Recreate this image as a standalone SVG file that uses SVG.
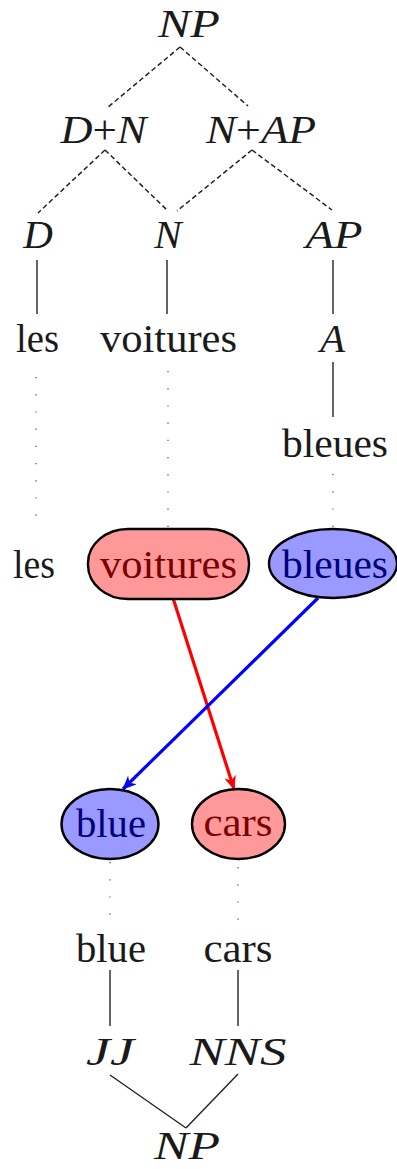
<svg xmlns="http://www.w3.org/2000/svg" width="397" height="1169" viewBox="0 0 397 1169">
<style>
text{font-family:"Liberation Serif","DejaVu Serif",serif;font-size:40px;fill:#1a1a1a;text-anchor:middle}
.m{font-style:italic;font-size:41px}
.u{font-style:normal}
.dash{stroke:#222;stroke-width:1.5;stroke-dasharray:5 3;fill:none}
.solid{stroke:#222;stroke-width:1.4;fill:none}
.dot{stroke:#555;stroke-width:1.3;stroke-dasharray:1.2 16;fill:none}
.red{fill:#ff9999;stroke:#000;stroke-width:2.4}
.blu{fill:#9999ff;stroke:#000;stroke-width:2.4}
.tr{fill:#7a0000}
.tb{fill:#00007a}
</style>
<defs>
<marker id="arR" viewBox="0 0 14 12" refX="13" refY="6" markerWidth="14" markerHeight="12" markerUnits="userSpaceOnUse" orient="auto">
<path d="M0,0 L14,6 L0,12 L4,6 Z" fill="#ff0000"/>
</marker>
<marker id="arB" viewBox="0 0 14 12" refX="13" refY="6" markerWidth="14" markerHeight="12" markerUnits="userSpaceOnUse" orient="auto">
<path d="M0,0 L14,6 L0,12 L4,6 Z" fill="#0000ff"/>
</marker>
</defs>
<g id="connectors">
<line class="dash" x1="180" y1="47" x2="107" y2="108"/>
<line class="dash" x1="180" y1="47" x2="248" y2="106"/>
<line class="dash" x1="105" y1="150" x2="38" y2="213"/>
<line class="dash" x1="105" y1="150" x2="168" y2="211"/>
<line class="dash" x1="252" y1="150" x2="177" y2="211"/>
<line class="dash" x1="252" y1="150" x2="332" y2="210"/>
<line class="solid" x1="37" y1="260" x2="37" y2="314"/>
<line class="solid" x1="167" y1="260" x2="167" y2="314"/>
<line class="solid" x1="333" y1="260" x2="333" y2="314"/>
<line class="solid" x1="333" y1="362" x2="333" y2="417"/>
<line class="dot" x1="36" y1="377" x2="36" y2="530"/>
<line class="dot" x1="168" y1="371" x2="168" y2="530"/>
<line class="dot" x1="333" y1="474" x2="333" y2="530"/>
<line class="dot" x1="110" y1="862" x2="110" y2="916"/>
<line class="dot" x1="238" y1="867" x2="238" y2="925"/>
<line class="solid" x1="110" y1="970" x2="110" y2="1026"/>
<line class="solid" x1="238" y1="970" x2="238" y2="1026"/>
<line class="solid" x1="110" y1="1075" x2="186" y2="1128"/>
<line class="solid" x1="238" y1="1074" x2="186" y2="1128"/>
<line x1="173" y1="598" x2="234" y2="789" stroke="#ff0000" stroke-width="3.2" marker-end="url(#arR)"/>
<line x1="318" y1="598" x2="123" y2="789" stroke="#0000ff" stroke-width="3.2" marker-end="url(#arB)"/>
</g>
<g id="np-top"><text class="m" x="189" y="37" textLength="62" lengthAdjust="spacingAndGlyphs">NP</text></g>
<g id="dn"><text x="103.5" y="143" textLength="86" lengthAdjust="spacingAndGlyphs"><tspan class="m">D</tspan><tspan class="u">+</tspan><tspan class="m">N</tspan></text></g>
<g id="nap"><text x="261" y="143" textLength="110" lengthAdjust="spacingAndGlyphs"><tspan class="m">N</tspan><tspan class="u">+</tspan><tspan class="m">AP</tspan></text></g>
<g id="d"><text class="m" x="38" y="248">D</text></g>
<g id="n"><text class="m" x="168" y="248">N</text></g>
<g id="ap"><text class="m" x="334" y="248" textLength="57" lengthAdjust="spacingAndGlyphs">AP</text></g>
<g id="les1"><text x="37.5" y="352" textLength="43" lengthAdjust="spacingAndGlyphs">les</text></g>
<g id="voitures1"><text x="168.5" y="352" textLength="137" lengthAdjust="spacingAndGlyphs">voitures</text></g>
<g id="a"><text class="m" x="332.5" y="352">A</text></g>
<g id="bleues1"><text x="335" y="457" textLength="106" lengthAdjust="spacingAndGlyphs">bleues</text></g>
<g id="les2"><text x="34" y="578" textLength="42" lengthAdjust="spacingAndGlyphs">les</text></g>
<g id="voitures2"><rect class="red" x="88" y="529" width="161" height="70" rx="40" ry="34"/><text class="tr" x="168.5" y="578" textLength="137" lengthAdjust="spacingAndGlyphs">voitures</text></g>
<g id="bleues2"><ellipse class="blu" cx="333" cy="563.5" rx="64" ry="34.5"/><text class="tb" x="335" y="578" textLength="106" lengthAdjust="spacingAndGlyphs">bleues</text></g>
<g id="blue2"><ellipse class="blu" cx="110" cy="824" rx="48.5" ry="35"/><text class="tb" x="111" y="837" textLength="70" lengthAdjust="spacingAndGlyphs">blue</text></g>
<g id="cars2"><ellipse class="red" cx="238.5" cy="824" rx="46.5" ry="35"/><text class="tr" x="238" y="836" textLength="69" lengthAdjust="spacingAndGlyphs">cars</text></g>
<g id="blue1"><text x="111" y="962" textLength="70" lengthAdjust="spacingAndGlyphs">blue</text></g>
<g id="cars1"><text x="238" y="962" textLength="69" lengthAdjust="spacingAndGlyphs">cars</text></g>
<g id="jj"><text class="m" x="110" y="1065" textLength="48" lengthAdjust="spacingAndGlyphs">JJ</text></g>
<g id="nns"><text class="m" x="238" y="1065" textLength="97" lengthAdjust="spacingAndGlyphs">NNS</text></g>
<g id="np-bottom"><text class="m" x="187" y="1159" textLength="66" lengthAdjust="spacingAndGlyphs">NP</text></g>
</svg>
